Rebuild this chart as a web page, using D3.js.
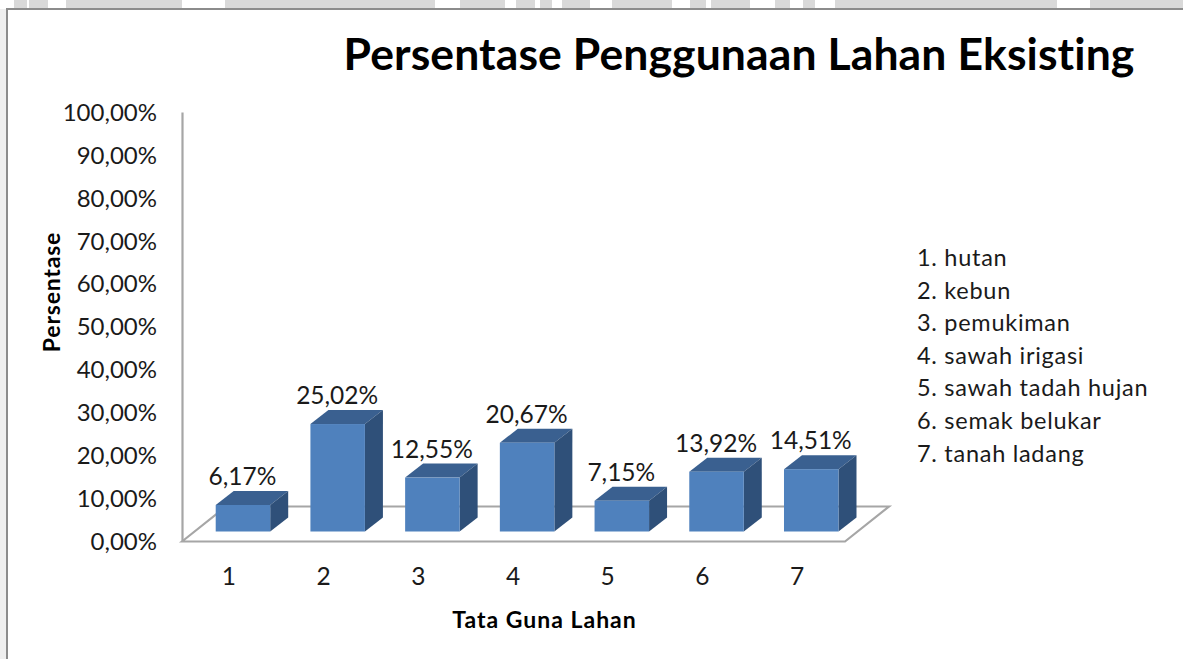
<!DOCTYPE html>
<html>
<head>
<meta charset="utf-8">
<script src="https://cdn.jsdelivr.net/npm/d3@7"></script>
<style>
html, body { margin: 0; padding: 0; background: #fff; }
svg { display: block; }
text { font-family: Lato, Carlito, sans-serif; fill: #1a1a1a; font-variant-ligatures: none; }
</style>
</head>
<body>
<svg width="1183" height="659"></svg>
<script>
var categories = ["1", "2", "3", "4", "5", "6", "7"];
var values = [6.17, 25.02, 12.55, 20.67, 7.15, 13.92, 14.51];
var valueLabels = ["6,17%", "25,02%", "12,55%", "20,67%", "7,15%", "13,92%", "14,51%"];
var yTicks = [0, 10, 20, 30, 40, 50, 60, 70, 80, 90, 100];
var legendItems = ["1. hutan", "2. kebun", "3. pemukiman", "4. sawah irigasi", "5. sawah tadah hujan", "6. semak belukar", "7. tanah ladang"];

var svg = d3.select("svg"),
width = +svg.attr("width"),
height = +svg.attr("height");

// page behind the chart: grey strip with the white gaps of the watermark
svg.append("rect").attr("width", width).attr("height", height).attr("fill", "#fff");
svg.append("rect").attr("width", 7).attr("height", height).attr("fill", "#efefef");
svg.append("rect").attr("width", width).attr("height", 9).attr("fill", "#d9d9d9");
var gaps = [[0, 14], [27, 29], [48, 66], [182, 225], [435, 460], [505, 516], [535, 540], [552, 562], [590, 612], [672, 690], [706, 711], [750, 775], [790, 803], [815, 835], [1057, 1090]];
svg.append("g").selectAll("rect").data(gaps).enter().append("rect")
  .attr("x", function(d) { return d[0]; })
  .attr("width", function(d) { return d[1] - d[0]; })
  .attr("height", 9).attr("fill", "#fff");

svg.append("rect").attr("x", 7).attr("y", 9).attr("width", width).attr("height", height)
  .attr("fill", "#fff").attr("stroke", "#8c8c8c").attr("stroke-width", 2);

var x = d3.scaleBand().domain(categories).range([182, 845]);
var y = d3.scaleLinear().domain([0, 100]).range([541.5, 112]);

// 3d offsets
var depthX = 44, depthY = 35;   // floor
var barDepthX = 18, barDepthY = 14;
var barW = 54.5, barShiftX = 13.6, barShiftY = 10;

// floor
var floor = d3.path();
floor.moveTo(x.range()[0], y(0));
floor.lineTo(x.range()[0] + depthX, y(0) - depthY);
floor.lineTo(x.range()[1] + depthX, y(0) - depthY);
floor.lineTo(x.range()[1], y(0));
floor.closePath();
svg.append("path").attr("d", floor.toString()).attr("fill", "#fff")
  .attr("stroke", "#a6a6a6").attr("stroke-width", 2.2).attr("stroke-linejoin", "miter");

// y axis
var yAxis = d3.axisLeft(y).tickValues(yTicks).tickSize(0).tickPadding(25)
  .tickFormat(function(d) { return d3.format(".2f")(d).replace(".", ",") + "%"; });
var gy = svg.append("g").attr("transform", "translate(182,0.5)").call(yAxis);
gy.select(".domain").attr("stroke", "#a6a6a6").attr("stroke-width", 2.2).attr("transform", "translate(0,-0.5)");
gy.selectAll("text").attr("font-size", 24).attr("fill", "#1a1a1a");

// x axis
var xAxis = d3.axisBottom(x).tickSize(0).tickPadding(26);
var gx = svg.append("g").attr("transform", "translate(-0.5," + y(0) + ")").call(xAxis);
gx.select(".domain").remove();
gx.selectAll("text").attr("font-size", 24.5).attr("fill", "#1a1a1a");

// bars
var bars = svg.append("g").selectAll("g").data(values).enter().append("g");

function barLeft(d, i) { return x(categories[i]) + x.bandwidth() / 2 + barShiftX - barW / 2; }
function barTop(d) { return y(d) - barShiftY; }
var base = y(0) - barShiftY;

bars.append("path").attr("fill", "#3a6090").attr("d", function(d, i) {
  var l = barLeft(d, i), t = barTop(d);
  return "M" + l + "," + t + "l" + barDepthX + "," + (-barDepthY) + "h" + barW + "l" + (-barDepthX) + "," + barDepthY + "Z";
});
bars.append("path").attr("fill", "#2f5079").attr("d", function(d, i) {
  var r = barLeft(d, i) + barW, t = barTop(d);
  return "M" + r + "," + t + "l" + barDepthX + "," + (-barDepthY) + "V" + (base - barDepthY) + "l" + (-barDepthX) + "," + barDepthY + "Z";
});
bars.append("rect").attr("fill", "#4f81bd")
  .attr("x", barLeft)
  .attr("y", barTop)
  .attr("width", barW)
  .attr("height", function(d) { return base - barTop(d); });

bars.append("text")
  .attr("text-anchor", "middle")
  .attr("font-size", 24.5)
  .attr("x", function(d, i) { return barLeft(d, i) + barW / 2 - 0.5; })
  .attr("y", function(d) { return barTop(d) - barDepthY - 6; })
  .text(function(d, i) { return valueLabels[i]; });

// titles
svg.append("text").attr("x", 739).attr("y", 70).attr("text-anchor", "middle")
  .attr("font-size", 44.5).attr("font-weight", "bold").attr("letter-spacing", 0.1)
  .style("fill", "#000")
  .text("Persentase Penggunaan Lahan Eksisting");

svg.append("text").attr("x", 544.5).attr("y", 628).attr("text-anchor", "middle")
  .attr("font-size", 23).attr("font-weight", "bold").attr("letter-spacing", 1).style("fill", "#000")
  .text("Tata Guna Lahan");

svg.append("text").attr("transform", "translate(60,292) rotate(-90)").attr("text-anchor", "middle")
  .attr("font-size", 23).attr("font-weight", "bold").attr("letter-spacing", 0.8).style("fill", "#000")
  .text("Persentase");

// legend
svg.append("g").selectAll("text").data(legendItems).enter().append("text")
  .attr("x", 917)
  .attr("y", function(d, i) { return 266 + i * 32.6; })
  .attr("font-size", 23.5).attr("letter-spacing", 0.72)
  .text(function(d) { return d; });
</script>
</body>
</html>
